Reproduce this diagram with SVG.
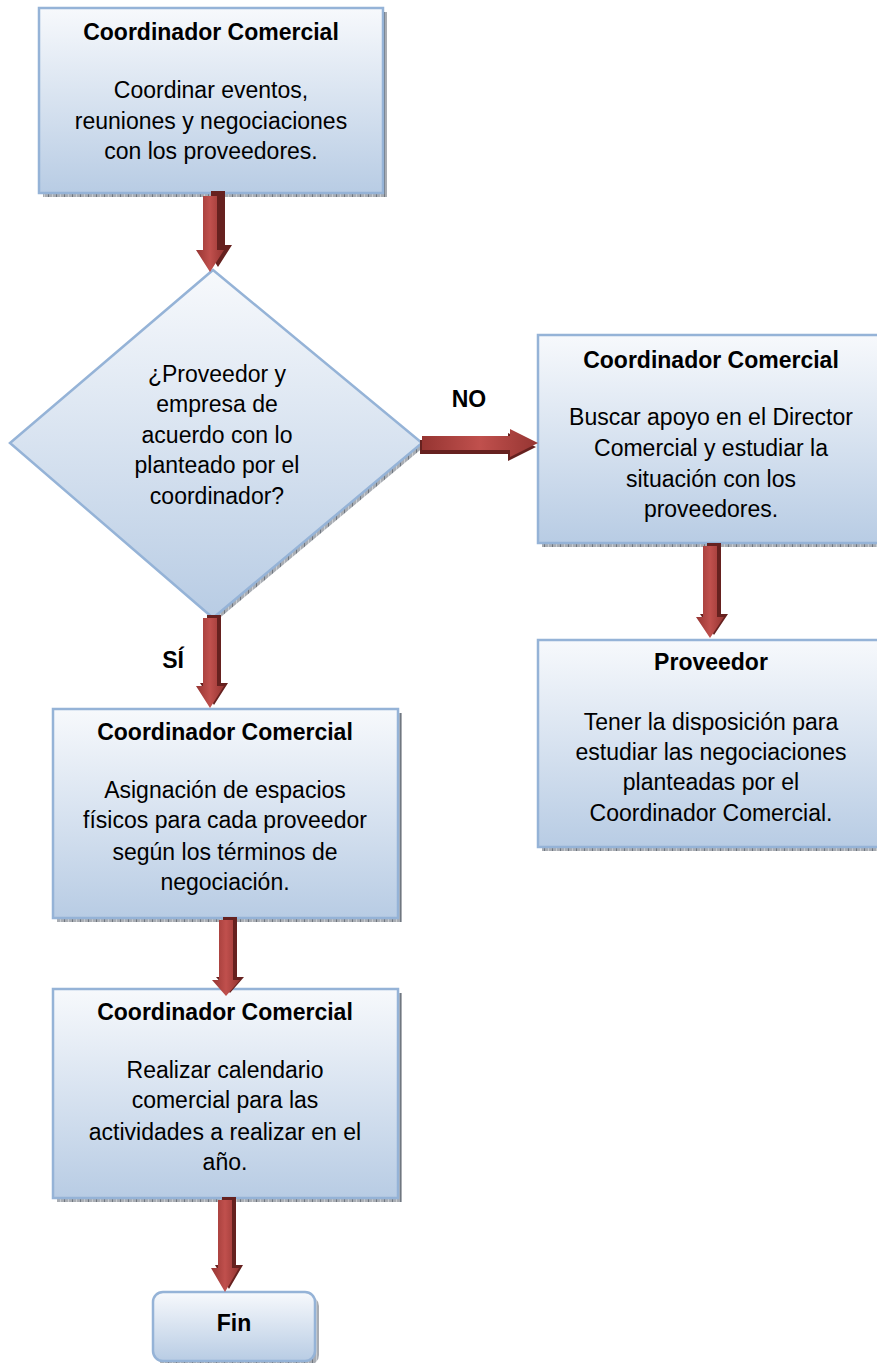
<svg xmlns="http://www.w3.org/2000/svg" width="877" height="1363" viewBox="0 0 877 1363">
<defs>
<linearGradient id="boxg" x1="0" y1="0" x2="0" y2="1">
<stop offset="0" stop-color="#F7F9FC"/>
<stop offset="1" stop-color="#B8CCE4"/>
</linearGradient>
<linearGradient id="arrV" x1="0" y1="0" x2="1" y2="0">
<stop offset="0" stop-color="#963532"/>
<stop offset="0.5" stop-color="#C0504D"/>
<stop offset="1" stop-color="#963532"/>
</linearGradient>
<linearGradient id="arrH" x1="0" y1="0" x2="1" y2="0">
<stop offset="0" stop-color="#963532"/>
<stop offset="0.5" stop-color="#C0504D"/>
<stop offset="1" stop-color="#963532"/>
</linearGradient>
<pattern id="shd" width="8" height="8" patternUnits="userSpaceOnUse">
<rect width="8" height="8" fill="#A9ADB3"/>
<rect x="0" y="0" width="1" height="8" fill="#707780"/>
<rect x="4" y="0" width="1" height="8" fill="#C9CCD0"/>
</pattern>
<style>
.box{fill:url(#boxg);stroke:#95B3D7;stroke-width:2.5}
.sh{fill:url(#shd)}
.t{font-family:"Liberation Sans",Arial,sans-serif;font-size:23px;fill:#000;text-anchor:middle}
.b{font-weight:bold}
.as{fill:#66211F}
.av{fill:url(#arrV)}
.ah{fill:url(#arrH)}
</style>
</defs>

<g id="n1">
<rect class="sh" x="43" y="12" width="344" height="185"/>
<rect class="box" x="39" y="8" width="344" height="185"/>
<text class="t b" x="211" y="40">Coordinador Comercial</text>
<text class="t" x="211" y="98">Coordinar eventos,</text>
<text class="t" x="211" y="129">reuniones y negociaciones</text>
<text class="t" x="211" y="159">con los proveedores.</text>
</g>

<g id="n2">
<polygon class="sh" points="216,273 425,446 216,621 13,446"/>
<polygon class="box" points="213,270 422,443 213,618 10,443"/>
<text class="t" x="217" y="382">¿Proveedor y</text>
<text class="t" x="217" y="412">empresa de</text>
<text class="t" x="217" y="443">acuerdo con lo</text>
<text class="t" x="217" y="473">planteado por el</text>
<text class="t" x="217" y="504">coordinador?</text>
</g>

<g id="n3">
<rect class="sh" x="542" y="339" width="346" height="208"/>
<rect class="box" x="538" y="335" width="346" height="208"/>
<text class="t b" x="711" y="368">Coordinador Comercial</text>
<text class="t" x="711" y="425">Buscar apoyo en el Director</text>
<text class="t" x="711" y="456">Comercial y estudiar la</text>
<text class="t" x="711" y="487">situación con los</text>
<text class="t" x="711" y="517">proveedores.</text>
</g>

<g id="n4">
<rect class="sh" x="542" y="644" width="346" height="207"/>
<rect class="box" x="538" y="640" width="346" height="207"/>
<text class="t b" x="711" y="670">Proveedor</text>
<text class="t" x="711" y="730">Tener la disposición para</text>
<text class="t" x="711" y="760">estudiar las negociaciones</text>
<text class="t" x="711" y="790">planteadas por el</text>
<text class="t" x="711" y="821">Coordinador Comercial.</text>
</g>

<g id="n5">
<rect class="sh" x="57" y="713" width="345" height="209"/>
<rect class="box" x="53" y="709" width="345" height="209"/>
<text class="t b" x="225" y="740">Coordinador Comercial</text>
<text class="t" x="225" y="798">Asignación de espacios</text>
<text class="t" x="225" y="828">físicos para cada proveedor</text>
<text class="t" x="225" y="860">según los términos de</text>
<text class="t" x="225" y="890">negociación.</text>
</g>

<g id="n6">
<rect class="sh" x="57" y="993" width="345" height="209"/>
<rect class="box" x="53" y="989" width="345" height="209"/>
<text class="t b" x="225" y="1020">Coordinador Comercial</text>
<text class="t" x="225" y="1078">Realizar calendario</text>
<text class="t" x="225" y="1108">comercial para las</text>
<text class="t" x="225" y="1140">actividades a realizar en el</text>
<text class="t" x="225" y="1170">año.</text>
</g>

<g id="n7">
<rect class="sh" x="157" y="1296" width="162" height="69" rx="10"/>
<rect class="box" x="153" y="1292" width="162" height="69" rx="10"/>
<text class="t b" x="234" y="1331">Fin</text>
</g>

<g id="connectors">
<!-- n1 -> n2 -->
<g transform="translate(210,196)">
<path class="as" d="M-3,-2 H11 V52 H18 L4,74 L-10,52 H-3 Z" transform="translate(4,-3)"/>
<path class="av" d="M-7,0 H7 V54 H14 L0,76 L-14,54 H-7 Z"/>
</g>
<!-- n2 -> n3 (NO) -->
<g transform="translate(422,443)">
<path class="as" d="M0,-7 H88 V-14 L116,0 L88,14 V7 H0 Z" transform="translate(-2,4)"/>
<path class="ah" d="M0,-7 H88 V-14 L116,0 L88,14 V7 H0 Z"/>
</g>
<!-- n2 -> n5 (SI) -->
<g transform="translate(210,618)">
<path class="as" d="M-7,0 H7 V68 H14 L0,90 L-14,68 H-7 Z" transform="translate(4,-3)"/>
<path class="av" d="M-7,0 H7 V68 H14 L0,90 L-14,68 H-7 Z"/>
</g>
<!-- n3 -> n4 -->
<g transform="translate(710,546)">
<path class="as" d="M-7,0 H7 V71 H14 L0,92 L-14,71 H-7 Z" transform="translate(4,-3)"/>
<path class="av" d="M-7,0 H7 V71 H14 L0,92 L-14,71 H-7 Z"/>
</g>
<!-- n5 -> n6 -->
<g transform="translate(226,920)">
<path class="as" d="M-7,0 H7 V60 H14 L0,76 L-14,60 H-7 Z" transform="translate(4,-3)"/>
<path class="av" d="M-7,0 H7 V60 H14 L0,76 L-14,60 H-7 Z"/>
</g>
<!-- n6 -> n7 -->
<g transform="translate(225,1200)">
<path class="as" d="M-7,0 H7 V68 H14 L0,92 L-14,68 H-7 Z" transform="translate(4,-3)"/>
<path class="av" d="M-7,0 H7 V68 H14 L0,92 L-14,68 H-7 Z"/>
</g>
<text class="t b" x="469" y="407">NO</text>
<text class="t b" x="173" y="668">SÍ</text>
</g>
</svg>
